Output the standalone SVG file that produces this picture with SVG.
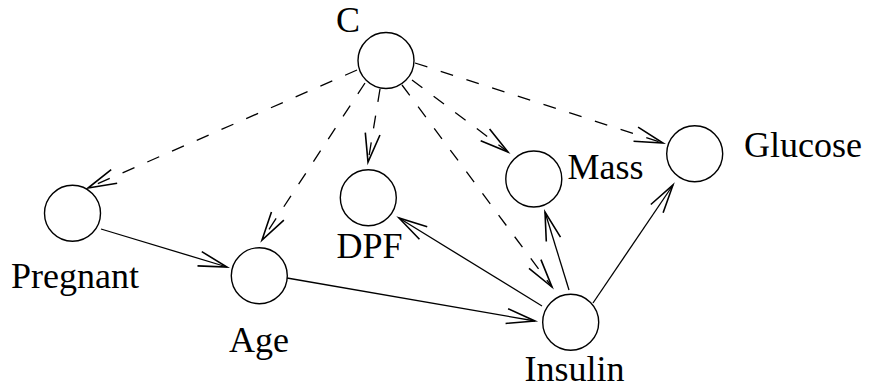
<svg xmlns="http://www.w3.org/2000/svg" width="869" height="389" viewBox="0 0 869 389">
<style>
.node{fill:#fff;stroke:#000;stroke-width:1.4}
.lbl{font-family:"Liberation Serif","Times New Roman",serif;font-size:36px;fill:#000}
.e{fill:none;stroke:#000;stroke-width:1.3;marker-end:url(#ah)}
.d{stroke-dasharray:13 14}
</style>
<defs>
<marker id="ah" markerUnits="userSpaceOnUse" orient="auto" refX="0" refY="0" markerWidth="40" markerHeight="40" viewBox="-30 -15 35 30" overflow="visible">
<path d="M-25,-6.5 L0,0 L-25,6.5" fill="none" stroke="#000" stroke-width="1.4" stroke-dasharray="none"/>
</marker>
</defs>
<rect width="869" height="389" fill="#fff"/>
<g id="edges">
<path class="e d" d="M357,70 L88,188"/>
<path class="e d" d="M365,83 L262,240"/>
<path class="e d" d="M380,89 L368,162"/>
<path class="e d" d="M402,85 L552,287"/>
<path class="e d" d="M412,80 L508,152"/>
<path class="e d" d="M415,63 L663,143"/>
<path class="e" d="M101,229 L227,267"/>
<path class="e" d="M287,278 L535,321"/>
<path class="e" d="M542,306 L399,218"/>
<path class="e" d="M569,290 L545,212"/>
<path class="e" d="M593,303 L673,185"/>
</g>
<g id="C"><circle class="node" cx="386" cy="60.5" r="28"/><text class="lbl" x="336" y="32">C</text></g>
<g id="Pregnant"><circle class="node" cx="72.5" cy="213.3" r="28"/><text class="lbl" x="11" y="288">Pregnant</text></g>
<g id="Age"><circle class="node" cx="259.3" cy="275.7" r="28"/><text class="lbl" x="229" y="352">Age</text></g>
<g id="DPF"><circle class="node" cx="368.3" cy="197.7" r="28"/><text class="lbl" x="336.5" y="258">DPF</text></g>
<g id="Mass"><circle class="node" cx="533.8" cy="179" r="28"/><text class="lbl" x="567.5" y="179">Mass</text></g>
<g id="Glucose"><circle class="node" cx="694.7" cy="153.8" r="28"/><text class="lbl" x="744" y="157">Glucose</text></g>
<g id="Insulin"><circle class="node" cx="570.7" cy="322.3" r="28"/><text class="lbl" x="524.5" y="381">Insulin</text></g>
</svg>
